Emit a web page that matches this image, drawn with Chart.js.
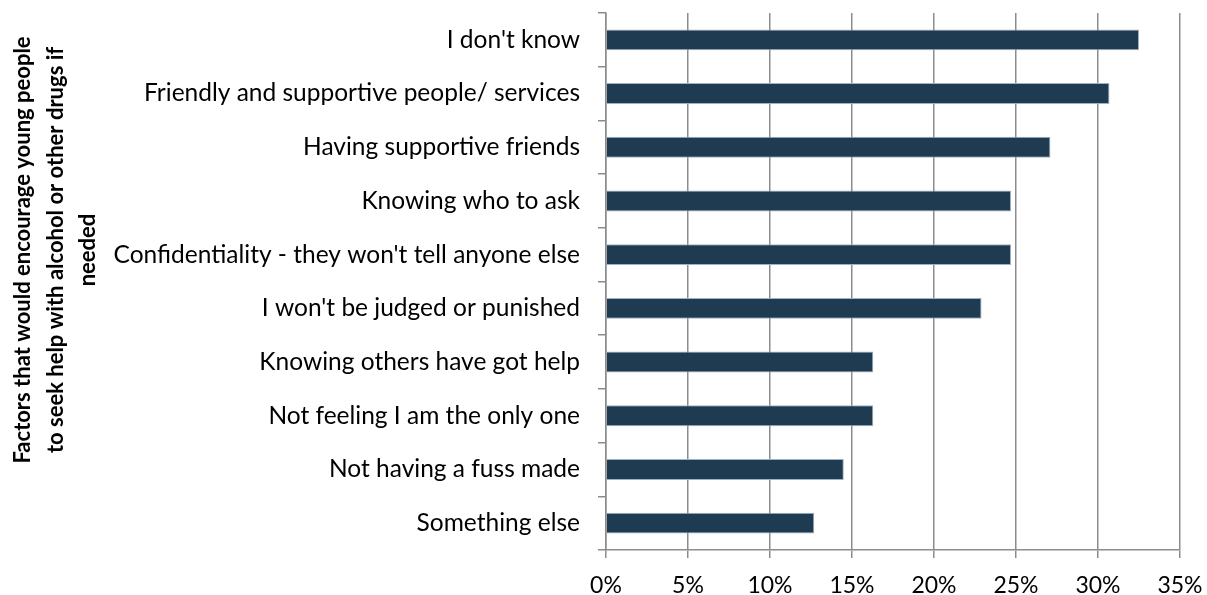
<!DOCTYPE html>
<html>
<head>
<meta charset="utf-8">
<script src="https://cdn.jsdelivr.net/npm/chart.js@4.4.1/dist/chart.umd.min.js"></script>
<style>
  html, body { margin: 0; padding: 0; background: #ffffff; }
  canvas { display: block; }
</style>
</head>
<body>
<canvas id="chart" width="1207" height="595"></canvas>
<script>
// Share of young people naming each factor (percent)
const factors = [
  "I don't know",
  "Friendly and supportive people/ services",
  "Having supportive friends",
  "Knowing who to ask",
  "Confidentiality - they won't tell anyone else",
  "I won't be judged or punished",
  "Knowing others have got help",
  "Not feeling I am the only one",
  "Not having a fuss made",
  "Something else"
];
const shares = [32.5, 30.7, 27.1, 24.7, 24.7, 22.9, 16.3, 16.3, 14.5, 12.7];
const axisTitle = [
  "Factors that would encourage young people",
  "to seek help with alcohol or other drugs if",
  "needed"
];
const pctTicks = [0, 5, 10, 15, 20, 25, 30, 35];

const FONT = "Lato, 'Open Sans', sans-serif";
const GRID = '#8c8c8c';

// Rotated, centred multi-line title for the category axis
const categoryTitle = {
  id: 'categoryTitle',
  afterDraw(chart) {
    const ctx = chart.ctx;
    const lineGap = 32.5;
    ctx.save();
    ctx.translate(23, 250);
    ctx.rotate(-Math.PI / 2);
    ctx.fillStyle = '#000000';
    ctx.font = "bold 22px " + FONT;
    ctx.textAlign = 'center';
    ctx.textBaseline = 'middle';
    axisTitle.forEach((line, i) => ctx.fillText(line, 0, i * lineGap));
    ctx.restore();
  }
};

new Chart(document.getElementById('chart'), {
  type: 'bar',
  data: {
    labels: factors,
    datasets: [{
      data: shares,
      backgroundColor: '#1f3b51',
      borderColor: '#9fb2c4',
      borderWidth: 1,
      barPercentage: 0.39,
      categoryPercentage: 1.0
    }]
  },
  plugins: [categoryTitle],
  options: {
    indexAxis: 'y',
    responsive: false,
    animation: false,
    layout: { padding: { top: 13, right: 27, left: 0, bottom: 0 } },
    plugins: {
      legend: { display: false },
      tooltip: { enabled: false }
    },
    scales: {
      x: {
        min: 0,
        max: 35,
        afterBuildTicks: (scale) => { scale.ticks = pctTicks.map(v => ({ value: v })); },
        afterFit: (scale) => { scale.height = 45; scale.paddingLeft = 0; scale.paddingRight = 0; },
        border: { display: true, color: GRID, width: 1.5 },
        grid: { color: GRID, lineWidth: 1.5, drawTicks: true, tickLength: 8, tickColor: GRID },
        ticks: {
          color: '#000000',
          padding: 14,
          font: { family: FONT, size: 23 },
          callback: (v) => v + '%'
        }
      },
      y: {
        afterFit: (scale) => { scale.width = 606; scale.paddingTop = 0; scale.paddingBottom = 0; },
        border: { display: true, color: GRID, width: 1.5 },
        grid: { offset: true, drawOnChartArea: false, drawTicks: true, tickLength: 8, color: GRID, lineWidth: 1.5 },
        ticks: {
          color: '#000000',
          padding: 18,
          font: { family: FONT, size: 24.5 }
        }
      }
    }
  }
});
</script>
</body>
</html>
